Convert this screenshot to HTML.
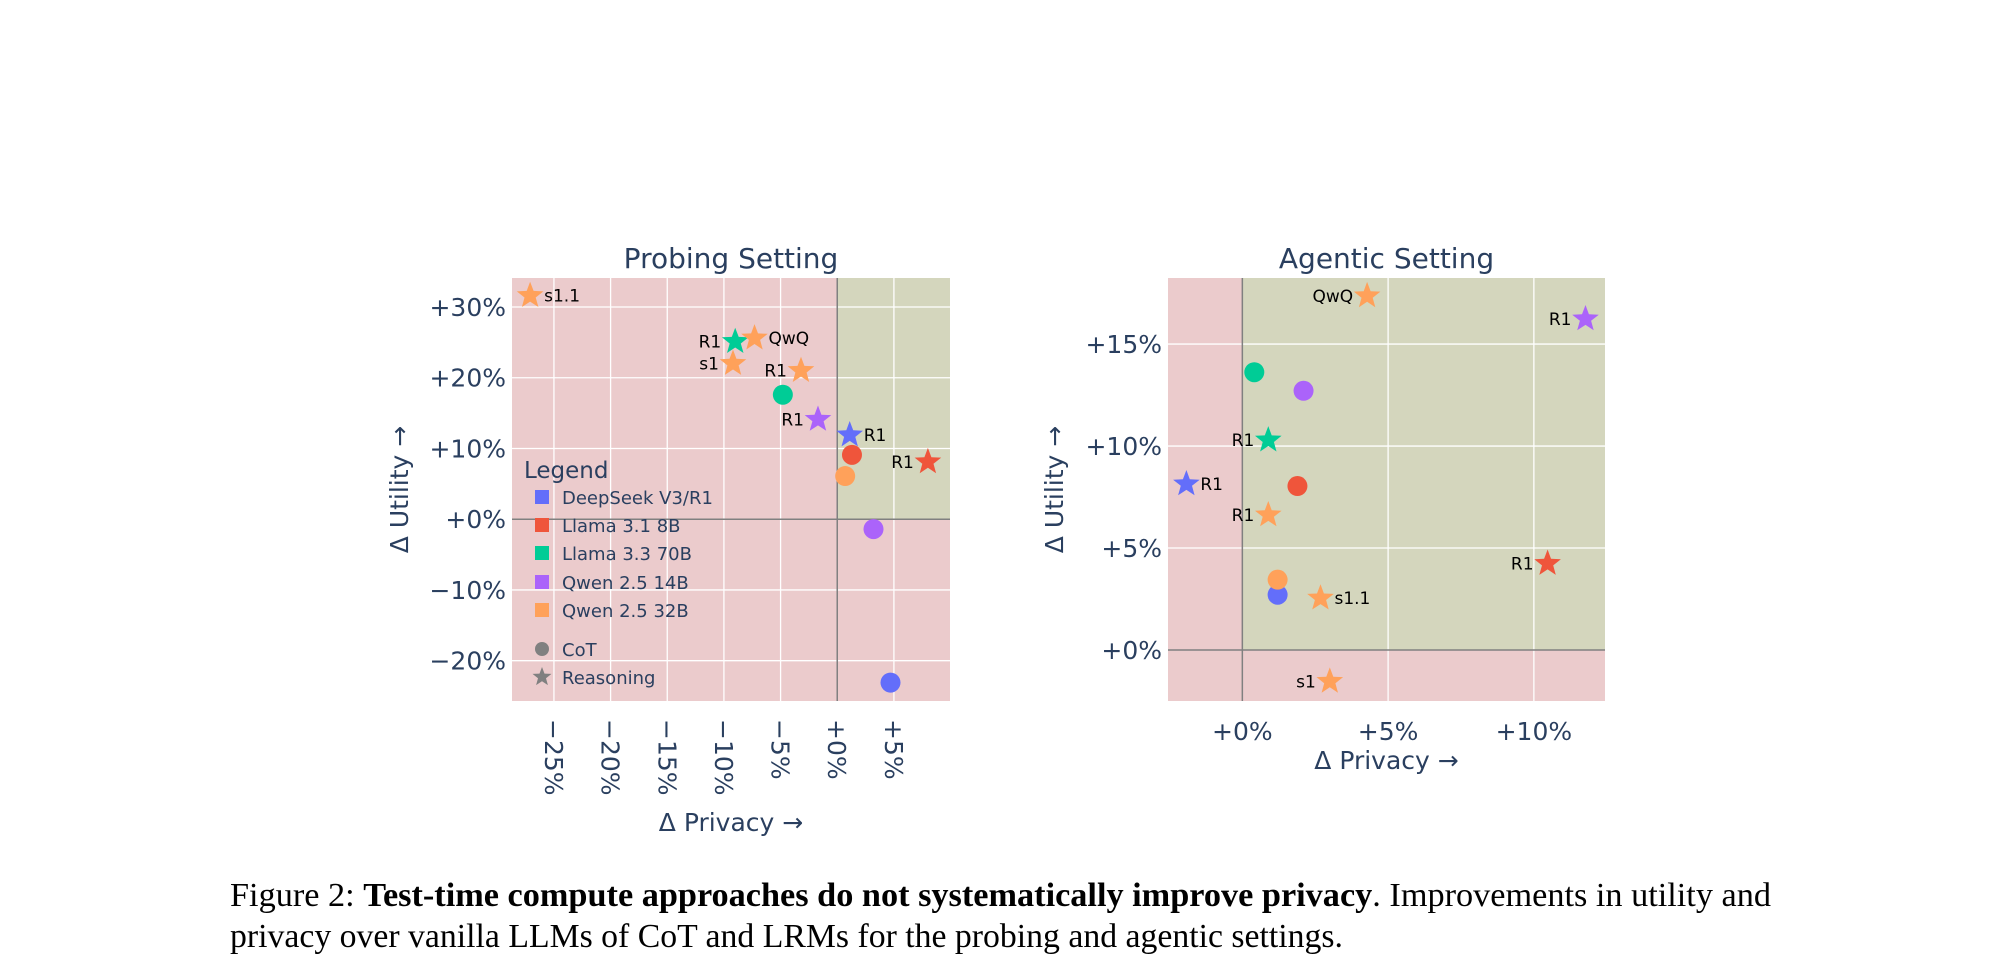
<!DOCTYPE html>
<html><head><meta charset="utf-8"><style>
html,body{margin:0;padding:0;background:#fff;}
svg{display:block;font-family:"DejaVu Sans","Liberation Sans",sans-serif;}
</style></head><body>
<svg id="fig" width="2000" height="969" viewBox="0 0 2000 969" xmlns="http://www.w3.org/2000/svg"></svg>
<script>
// Probing setting data
const probeSeries = ["ds","ds","l8","l8","l70","l70","q14","q14","q32","q32","q32","q32","q32"];
const probeShape = ["circle","star","circle","star","circle","star","circle","star","circle","star","star","star","star"];
const probeLabels = ["","R1","","R1","","R1","","R1","","R1","QwQ","s1","s1.1"];
const probeX = [4.7,1.1,1.3,8.0,-4.8,-9.0,3.2,-1.7,0.7,-3.2,-7.3,-9.2,-27.1];
const probeY = [-23.1,11.9,9.1,8.1,17.6,25.1,-1.4,14.1,6.1,21.0,25.6,22.0,31.6];
const probeLabelSide = ["","right","","left","","left","","left","","left","right","left","right"];
const probeXTicks = [-25,-20,-15,-10,-5,0,5];
const probeYTicks = [-20,-10,0,10,20,30];
// Agentic setting data
const agSeries = ["ds","ds","l8","l8","l70","l70","q14","q14","q32","q32","q32","q32","q32"];
const agShape = ["circle","star","circle","star","circle","star","circle","star","circle","star","star","star","star"];
const agLabels = ["","R1","","R1","","R1","","R1","","R1","QwQ","s1","s1.1"];
const agX = [1.21,-1.92,1.89,10.47,0.41,0.89,2.10,11.77,1.21,0.89,4.28,3.0,2.68];
const agY = [2.71,8.14,8.04,4.24,13.62,10.29,12.71,16.23,3.45,6.62,17.36,-1.54,2.54];
const agLabelSide = ["","right","","left","","left","","left","","left","left","left","right"];
const agXTicks = [0,5,10];
const agYTicks = [0,5,10,15];
const legendNames = ["DeepSeek V3/R1","Llama 3.1 8B","Llama 3.3 70B","Qwen 2.5 14B","Qwen 2.5 32B"];
const legendKeys = ["ds","l8","l70","q14","q32"];

const COL = {ds:"#636efa",l8:"#EF553B",l70:"#00cc96",q14:"#ab63fa",q32:"#FFA15A"};
const NS="http://www.w3.org/2000/svg";
const svg=document.getElementById('fig');
function el(tag,attrs,parent,text){const e=document.createElementNS(NS,tag);for(const k in attrs)e.setAttribute(k,attrs[k]);if(text!==undefined)e.textContent=text;(parent||svg).appendChild(e);return e;}
function starPath(cx,cy,R){const r=R*0.42;let d="";for(let i=0;i<10;i++){const a=-Math.PI/2+i*Math.PI/5;const rr=i%2?r:R;d+=(i?"L":"M")+(cx+rr*Math.cos(a)).toFixed(1)+","+(cy+rr*Math.sin(a)).toFixed(1);}return d+"Z";}
const TXT="#2a3f5f";

function chart(cfg){
  const g=el('g',{});
  
  
  const sx=v=>cfg.L+(v-cfg.x0)/(cfg.x1-cfg.x0)*(cfg.R-cfg.L);
  const sy=v=>cfg.B-(v-cfg.y0)/(cfg.y1-cfg.y0)*(cfg.B-cfg.T);
  const zx=sx(0), zy=sy(0);
  const bg=el('rect',{x:cfg.L,y:cfg.T,width:cfg.R-cfg.L,height:cfg.B-cfg.T,fill:"#ebcbcc"},g);
  
  
  const q=el('rect',{x:zx,y:cfg.T,width:cfg.R-zx,height:zy-cfg.T,fill:"#d4d6bd"},g);
  
  
  cfg.xt.forEach(t=>{if(t!==0)el('line',{x1:sx(t),x2:sx(t),y1:cfg.T,y2:cfg.B,stroke:"#fff","stroke-width":1.3},g);});
  cfg.yt.forEach(t=>{if(t!==0)el('line',{x1:cfg.L,x2:cfg.R,y1:sy(t),y2:sy(t),stroke:"#fff","stroke-width":1.3},g);});
  el('line',{x1:zx,x2:zx,y1:cfg.T,y2:cfg.B,stroke:"#808080","stroke-width":1.5},g);
  el('line',{x1:cfg.L,x2:cfg.R,y1:zy,y2:zy,stroke:"#808080","stroke-width":1.5},g);
  const ti=el('text',{x:(cfg.L+cfg.R)/2,y:cfg.T-10,"text-anchor":"middle","font-size":28,fill:TXT},g,cfg.title);
  
  
  cfg.yt.forEach(t=>{const s=(t<0?"\u2212":"+")+Math.abs(t)+"%";
    const e=el('text',{x:cfg.L-6,y:sy(t)+9,"text-anchor":"end","font-size":25,fill:TXT},g,s);
    
    });
  cfg.xt.forEach(t=>{const s=(t<0?"\u2212":"+")+Math.abs(t)+"%";
    let e;
    if(cfg.rot){e=el('text',{x:0,y:0,"font-size":25,fill:TXT,transform:`translate(${sx(t)-9},${cfg.B+18}) rotate(90)`},g,s);}
    else{e=el('text',{x:sx(t),y:cfg.B+39,"text-anchor":"middle","font-size":25,fill:TXT},g,s);}
    
    });
  const xa=el('text',{x:(cfg.L+cfg.R)/2,y:cfg.xTitleY,"text-anchor":"middle","font-size":25,fill:TXT},g,"\u0394 Privacy \u2192");
  
  
  const ya=el('text',{x:0,y:0,"text-anchor":"middle","font-size":25,fill:TXT,transform:`translate(${cfg.yTitleX},${(cfg.T+cfg.B)/2}) rotate(-90)`},g,"\u0394 Utility \u2192");
  
  
  return {g,sx,sy};
}

function points(c,X,Y,S,SH,LB,SIDE){
  for(let i=0;i<X.length;i++){
    const px=c.sx(X[i]),py=c.sy(Y[i]);let m;
    if(SH[i]==="circle"){m=el('circle',{cx:px,cy:py,r:10,fill:COL[S[i]]},c.g);}
    else{m=el('path',{d:starPath(px,py,14),fill:COL[S[i]]},c.g);}
    
    if(LB[i]){const right=SIDE[i]==="right";
      const t=el('text',{x:right?px+14:px-14,y:py+6,"text-anchor":right?"start":"end","font-size":17,fill:"#000"},c.g,LB[i]);
      
      }
  }
}

const c1=chart({name:'probing-chart',title:'Probing Setting',L:512,R:950,T:278,B:701,x0:-28.7,x1:9.95,y0:-25.7,y1:34.1,xt:probeXTicks,yt:probeYTicks,rot:true,xTitleY:831,yTitleX:408});
points(c1,probeX,probeY,probeSeries,probeShape,probeLabels,probeLabelSide);
const c2=chart({name:'agentic-chart',title:'Agentic Setting',L:1168,R:1605,T:278,B:701,x0:-2.55,x1:12.44,y0:-2.5,y1:18.24,xt:agXTicks,yt:agYTicks,rot:false,xTitleY:769,yTitleX:1063});
points(c2,agX,agY,agSeries,agShape,agLabels,agLabelSide);

const lg=el('g',{});


const lt=el('text',{x:524,y:478,"font-size":23,fill:TXT},lg,"Legend");


const rowY=[497,525,553,582,610];
legendKeys.forEach((k,i)=>{
  const r=el('rect',{x:535,y:rowY[i]-7,width:14,height:14,fill:COL[k]},lg);
  
  
  const t=el('text',{x:562,y:rowY[i]+7,"font-size":18,fill:TXT},lg,legendNames[i]);
  
  
});
const cc=el('circle',{cx:542,cy:649,r:7,fill:"#808080"},lg);


const ct=el('text',{x:562,y:656,"font-size":18,fill:TXT},lg,"CoT");


const rs=el('path',{d:starPath(542,677,10),fill:"#808080"},lg);


const rt=el('text',{x:562,y:684,"font-size":18,fill:TXT},lg,"Reasoning");


</script>
<svg style="position:absolute;left:0;top:0" width="2000" height="969">
<text x="230" y="906" font-family="'Liberation Serif',serif" font-size="34" fill="#000" textLength="1541" lengthAdjust="spacingAndGlyphs">Figure 2: <tspan font-weight="bold">Test-time compute approaches do not systematically improve privacy</tspan>. Improvements in utility and</text>
<text x="230" y="947" font-family="'Liberation Serif',serif" font-size="34" fill="#000" textLength="1113" lengthAdjust="spacingAndGlyphs">privacy over vanilla LLMs of CoT and LRMs for the probing and agentic settings.</text>
</svg>
</body></html>
